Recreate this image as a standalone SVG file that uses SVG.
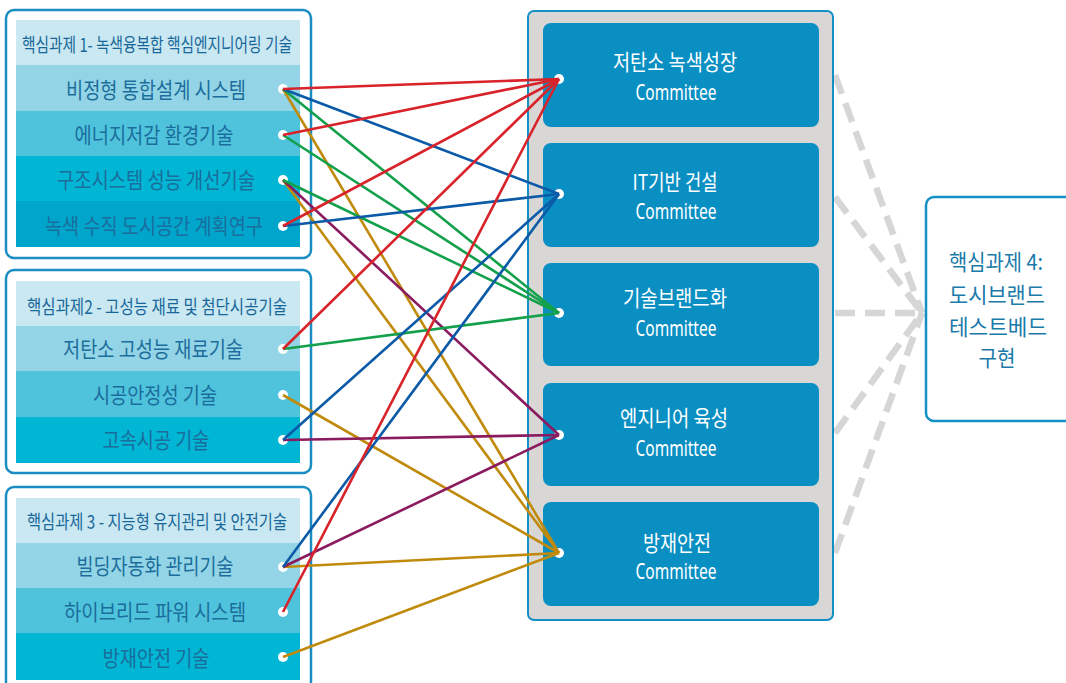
<svg xmlns="http://www.w3.org/2000/svg" width="1066" height="683" viewBox="0 0 1066 683">
  <defs>
    <style>
      .frame { fill: #ffffff; stroke: #1a8ec2; stroke-width: 2.5; }
      .hdr { fill: #c9e8f1; }
      .rA { fill: #93d5e6; }
      .rB { fill: #4fc3dc; }
      .rC { fill: #00b6d4; }
      .rD { fill: #00a5cc; }
      .t { font-family: "Noto Sans CJK KR", "Noto Sans", sans-serif; fill: #1b6d9c; text-anchor: middle; }
      .th { font-size: 19px; fill: #18679a; }
      .tr { font-size: 22px; }
      .cont { fill: #d9d7d6; stroke: #1590c5; stroke-width: 2; }
      .cbox { fill: #0a8fc3; }
      .ct { font-family: "Noto Sans CJK KR", "Noto Sans", sans-serif; fill: #ffffff; text-anchor: middle; font-size: 22px; }
      .cm { font-family: "Noto Sans", "Liberation Sans", sans-serif; fill: #ffffff; text-anchor: middle; font-size: 21px; }
      .dash { stroke: #d6d6d6; stroke-width: 6.5; stroke-dasharray: 20 10; fill: none; }
      .goal { fill: #ffffff; stroke: #1590c5; stroke-width: 2.5; }
      .gt { font-family: "Noto Sans CJK KR", "Noto Sans", sans-serif; fill: #1a7aaa; text-anchor: middle; font-size: 22px; }
      .ln { fill: none; stroke-width: 2.6; }
      .red { stroke: #d8232a; }
      .blue { stroke: #0b5aa8; }
      .green { stroke: #13a04b; }
      .purple { stroke: #8a1b5f; }
      .gold { stroke: #c08b0c; }
      .dot { fill: #ffffff; }
    </style>
  </defs>

  <!-- core task 1 -->
  <g id="task1">
    <rect class="frame" x="6" y="10" width="305" height="248" rx="8"/>
    <rect class="hdr" x="16" y="20" width="284" height="45"/>
    <rect class="rA" x="16" y="65" width="284" height="46"/>
    <rect class="rB" x="16" y="111" width="284" height="45"/>
    <rect class="rC" x="16" y="156" width="284" height="45"/>
    <rect class="rD" x="16" y="201" width="284" height="46"/>
    <text class="t th" x="157" y="52" textLength="270" lengthAdjust="spacingAndGlyphs">핵심과제 1- 녹색융복합 핵심엔지니어링 기술</text>
    <text class="t tr" x="156" y="98" textLength="180" lengthAdjust="spacingAndGlyphs">비정형 통합설계 시스템</text>
    <text class="t tr" x="154" y="143" textLength="159" lengthAdjust="spacingAndGlyphs">에너지저감 환경기술</text>
    <text class="t tr" x="156" y="188" textLength="198" lengthAdjust="spacingAndGlyphs">구조시스템 성능 개선기술</text>
    <text class="t tr" x="154" y="234" textLength="218" lengthAdjust="spacingAndGlyphs">녹색 수직 도시공간 계획연구</text>
  </g>

  <!-- core task 2 -->
  <g id="task2">
    <rect class="frame" x="6" y="270" width="305" height="203" rx="8"/>
    <rect class="hdr" x="16" y="281" width="284" height="45"/>
    <rect class="rA" x="16" y="326" width="284" height="45"/>
    <rect class="rB" x="16" y="371" width="284" height="46"/>
    <rect class="rC" x="16" y="417" width="284" height="46"/>
    <text class="t th" x="157" y="314" textLength="260" lengthAdjust="spacingAndGlyphs">핵심과제2 - 고성능 재료 및 첨단시공기술</text>
    <text class="t tr" x="153" y="357" textLength="180" lengthAdjust="spacingAndGlyphs">저탄소 고성능 재료기술</text>
    <text class="t tr" x="155" y="403" textLength="124" lengthAdjust="spacingAndGlyphs">시공안정성 기술</text>
    <text class="t tr" x="156" y="448" textLength="107" lengthAdjust="spacingAndGlyphs">고속시공 기술</text>
  </g>

  <!-- core task 3 -->
  <g id="task3">
    <rect class="frame" x="6" y="487" width="305" height="210" rx="8"/>
    <rect class="hdr" x="16" y="498" width="284" height="45"/>
    <rect class="rA" x="16" y="543" width="284" height="45"/>
    <rect class="rB" x="16" y="588" width="284" height="45"/>
    <rect class="rC" x="16" y="633" width="284" height="47"/>
    <text class="t th" x="157" y="529" textLength="260" lengthAdjust="spacingAndGlyphs">핵심과제 3 - 지능형 유지관리 및 안전기술</text>
    <text class="t tr" x="155" y="574" textLength="157" lengthAdjust="spacingAndGlyphs">빌딩자동화 관리기술</text>
    <text class="t tr" x="155" y="620" textLength="182" lengthAdjust="spacingAndGlyphs">하이브리드 파워 시스템</text>
    <text class="t tr" x="156" y="666" textLength="107" lengthAdjust="spacingAndGlyphs">방재안전 기술</text>
  </g>

  <!-- dashed links from committees to core task 4 -->
  <g id="dashed-links">
    <line class="dash" x1="835" y1="75" x2="922" y2="313"/>
    <line class="dash" x1="835" y1="197" x2="922" y2="313"/>
    <line class="dash" x1="835" y1="313" x2="922" y2="313"/>
    <line class="dash" x1="835" y1="433" x2="922" y2="313"/>
    <line class="dash" x1="835" y1="553" x2="922" y2="313"/>
  </g>

  <!-- committees -->
  <g id="committees">
    <rect class="cont" x="528" y="11" width="305" height="609" rx="6"/>
    <g id="c1">
      <rect class="cbox" x="543" y="23" width="276" height="104" rx="8"/>
      <text class="ct" x="675" y="70" textLength="124" lengthAdjust="spacingAndGlyphs">저탄소 녹색성장</text>
      <text class="cm" x="676" y="100" textLength="81" lengthAdjust="spacingAndGlyphs">Committee</text>
    </g>
    <g id="c2">
      <rect class="cbox" x="543" y="143" width="276" height="104" rx="8"/>
      <text class="ct" x="675" y="190" textLength="85" lengthAdjust="spacingAndGlyphs">IT기반 건설</text>
      <text class="cm" x="676" y="219" textLength="81" lengthAdjust="spacingAndGlyphs">Committee</text>
    </g>
    <g id="c3">
      <rect class="cbox" x="543" y="263" width="276" height="103" rx="8"/>
      <text class="ct" x="675" y="306" textLength="104" lengthAdjust="spacingAndGlyphs">기술브랜드화</text>
      <text class="cm" x="676" y="336" textLength="81" lengthAdjust="spacingAndGlyphs">Committee</text>
    </g>
    <g id="c4">
      <rect class="cbox" x="543" y="383" width="276" height="103" rx="8"/>
      <text class="ct" x="674" y="426" textLength="108" lengthAdjust="spacingAndGlyphs">엔지니어 육성</text>
      <text class="cm" x="676" y="456" textLength="81" lengthAdjust="spacingAndGlyphs">Committee</text>
    </g>
    <g id="c5">
      <rect class="cbox" x="543" y="502" width="276" height="104" rx="8"/>
      <text class="ct" x="677" y="551" textLength="68" lengthAdjust="spacingAndGlyphs">방재안전</text>
      <text class="cm" x="676" y="579" textLength="81" lengthAdjust="spacingAndGlyphs">Committee</text>
    </g>
  </g>

  <!-- core task 4 -->
  <g id="task4">
    <rect class="goal" x="926" y="197" width="160" height="224" rx="8"/>
    <text class="gt" x="996" y="270" textLength="94" lengthAdjust="spacingAndGlyphs">핵심과제 4:</text>
    <text class="gt" x="997" y="303" textLength="96" lengthAdjust="spacingAndGlyphs">도시브랜드</text>
    <text class="gt" x="998" y="335" textLength="98" lengthAdjust="spacingAndGlyphs">테스트베드</text>
    <text class="gt" x="997" y="366" textLength="37" lengthAdjust="spacingAndGlyphs">구현</text>
  </g>

  <!-- connection points -->
  <g id="ports">
    <circle class="dot" cx="283" cy="89" r="5"/>
    <circle class="dot" cx="283" cy="135" r="5"/>
    <circle class="dot" cx="283" cy="180" r="5"/>
    <circle class="dot" cx="283" cy="226" r="5"/>
    <circle class="dot" cx="283" cy="349" r="5"/>
    <circle class="dot" cx="283" cy="395" r="5"/>
    <circle class="dot" cx="283" cy="440" r="5"/>
    <circle class="dot" cx="283" cy="567" r="5"/>
    <circle class="dot" cx="283" cy="612" r="5"/>
    <circle class="dot" cx="283" cy="657" r="5"/>
    <circle class="dot" cx="559" cy="79" r="5"/>
    <circle class="dot" cx="559" cy="194" r="5"/>
    <circle class="dot" cx="559" cy="313" r="5"/>
    <circle class="dot" cx="559" cy="435" r="5"/>
    <circle class="dot" cx="559" cy="553" r="5"/>
  </g>

  <!-- technology-to-committee connectors -->
  <g id="connectors">
    <line class="ln gold" x1="283" y1="89" x2="559" y2="553"/>
    <line class="ln gold" x1="283" y1="180" x2="559" y2="553"/>
    <line class="ln gold" x1="283" y1="395" x2="559" y2="553"/>
    <line class="ln gold" x1="283" y1="567" x2="559" y2="553"/>
    <line class="ln gold" x1="283" y1="657" x2="559" y2="553"/>
    <line class="ln purple" x1="283" y1="180" x2="559" y2="435"/>
    <line class="ln purple" x1="283" y1="440" x2="559" y2="435"/>
    <line class="ln purple" x1="283" y1="567" x2="559" y2="435"/>
    <line class="ln green" x1="283" y1="89" x2="559" y2="313"/>
    <line class="ln green" x1="283" y1="135" x2="559" y2="313"/>
    <line class="ln green" x1="283" y1="180" x2="559" y2="313"/>
    <line class="ln green" x1="283" y1="349" x2="559" y2="313"/>
    <line class="ln blue" x1="283" y1="89" x2="559" y2="194"/>
    <line class="ln blue" x1="283" y1="226" x2="559" y2="194"/>
    <line class="ln blue" x1="283" y1="440" x2="559" y2="194"/>
    <line class="ln blue" x1="283" y1="567" x2="559" y2="194"/>
    <line class="ln red" x1="283" y1="89" x2="559" y2="79"/>
    <line class="ln red" x1="283" y1="135" x2="559" y2="79"/>
    <line class="ln red" x1="283" y1="226" x2="559" y2="79"/>
    <line class="ln red" x1="283" y1="349" x2="559" y2="79"/>
    <line class="ln red" x1="283" y1="612" x2="559" y2="79"/>
  </g>
</svg>
